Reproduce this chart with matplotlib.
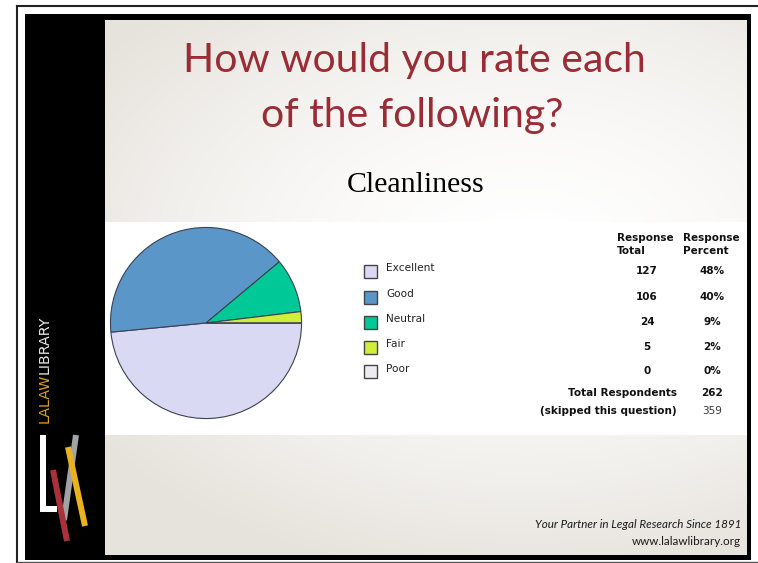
import numpy as np
import matplotlib
matplotlib.use("Agg")
import matplotlib.pyplot as plt
from matplotlib.patches import Rectangle, Polygon

# ---- data ----
categories = ["Excellent", "Good", "Neutral", "Fair", "Poor"]
counts = [127, 106, 24, 5, 0]
percents = ["48%", "40%", "9%", "2%", "0%"]
colors = ["#d9d9f3", "#5b96c8", "#00c997", "#d2ee3c", "#ececf0"]
total_respondents = 262
skipped = 359
title_lines = ["How would you rate each", "of the following?"]
subtitle = "Cleanliness"
footer_lines = ["Your Partner in Legal Research Since 1891", "www.lalawlibrary.org"]

W, H = 758, 563
fig = plt.figure(figsize=(W / 100, H / 100), dpi=100)
fig.patch.set_facecolor("white")

# background axes in pixel coordinates
bg = fig.add_axes([0, 0, 1, 1])
bg.set_xlim(0, W)
bg.set_ylim(H, 0)
bg.axis("off")

# outer thin frame
bg.plot([16.5, W], [5.5, 5.5], color="#222222", lw=1.5, zorder=1)
bg.plot([16.5, 16.5], [5.5, H], color="#222222", lw=1.5, zorder=1)
bg.plot([16.5, W], [562, 562], color="#555555", lw=1.0, zorder=1)

# black slide frame
bg.add_patch(Rectangle((25, 14), 726, 546, facecolor="black", edgecolor="none", zorder=2))

# gradient content area
x0, y0, x1, y1 = 105, 20, 747, 555
ny, nx = y1 - y0, x1 - x0
yy, xx = np.mgrid[0:ny, 0:nx]
d = np.sqrt(((xx - 420) / 520.0) ** 2 + ((yy - 230) / 330.0) ** 2)
t = np.clip(d, 0, 1) ** 1.6
white = np.array([1.0, 1.0, 1.0])
gray = np.array([0.905, 0.89, 0.865])
img = white[None, None, :] * (1 - t[..., None]) + gray[None, None, :] * t[..., None]
bg.imshow(img, extent=(x0, x1, y1, y0), zorder=3, aspect="auto", interpolation="bilinear")
bg.set_xlim(0, W)
bg.set_ylim(H, 0)

# white panel (survey screenshot)
bg.add_patch(Rectangle((105, 222), 642, 213, facecolor="white", edgecolor="none", zorder=4))

# title and subtitle
bg.text(414, 72, title_lines[0], ha="center", va="baseline", fontsize=29.5,
        family="Lato", color="#9b2c35", zorder=5)
bg.text(412, 127, title_lines[1], ha="center", va="baseline", fontsize=29.5,
        family="Lato", color="#9b2c35", zorder=5)
bg.text(416, 192, subtitle, ha="center", va="baseline", fontsize=21.5,
        family="Liberation Serif", color="black", zorder=5)

# footer
bg.text(741, 528, footer_lines[0], ha="right", va="baseline", fontsize=8.4,
        family="Lato", style="italic", color="#1a1a1a", zorder=5)
bg.text(741, 545, footer_lines[1], ha="right", va="baseline", fontsize=8.4,
        family="Lato", color="#1a1a1a", zorder=5)

# sidebar logo text
t1 = bg.text(45, 423, "LALAW", rotation=90, ha="center", va="bottom", fontsize=10.3,
             family="DejaVu Sans", color="#d9a21f", zorder=5)
fig.canvas.draw()
ext = t1.get_window_extent()
top_px = H - ext.y1
bg.text(45, top_px, "LIBRARY", rotation=90, ha="center", va="bottom", fontsize=10.3,
        family="DejaVu Sans", color="#e8e8e8", zorder=5)

# logo shapes
bg.add_patch(Polygon([(40, 435), (46, 435), (46, 506), (57, 506), (57, 512), (40, 512)],
                     closed=True, facecolor="white", edgecolor="none", zorder=5))
def bar(p0, p1, w, c, z):
    p0 = np.array(p0, float); p1 = np.array(p1, float)
    v = p1 - p0
    n = np.array([-v[1], v[0]]) / np.linalg.norm(v) * w / 2
    bg.add_patch(Polygon([p0 + n, p1 + n, p1 - n, p0 - n], closed=True,
                         facecolor=c, edgecolor="none", zorder=z))
bar((76, 435), (64, 520), 6, "#a0a2a5", 6)
bar((53, 470), (67, 541), 6, "#a8313c", 7)
bar((68, 447), (85, 526), 6, "#eab21f", 8)

# pie chart
cx, cy, r = 206, 323, 96.5
pax = fig.add_axes([(cx - r) / W, (H - cy - r) / H, 2 * r / W, 2 * r / H])
pax.pie(counts, colors=colors, startangle=0, counterclock=False,
        wedgeprops=dict(edgecolor="#3a4152", linewidth=0.8))
pax.set_xlim(-1.01, 1.01)
pax.set_ylim(-1.01, 1.01)
pax.set_aspect("equal")
pax.set_zorder(10)

# legend
row_y = [271, 297, 322, 347, 371.5]
for cat, col, y in zip(categories, colors, row_y):
    bg.add_patch(Rectangle((364, y - 6.5), 13, 13, facecolor=col, edgecolor="#444444",
                           linewidth=1.0, zorder=6))
    bg.text(386, y - 3, cat, ha="left", va="center", fontsize=7.6,
            family="DejaVu Sans", color="#222222", zorder=6)

# table
tf = dict(family="DejaVu Sans", fontsize=7.5, fontweight="bold", color="#111111", zorder=6)
bg.text(617, 238, "Response", ha="left", va="center", **tf)
bg.text(617, 250.5, "Total", ha="left", va="center", **tf)
bg.text(683, 238, "Response", ha="left", va="center", **tf)
bg.text(683, 250.5, "Percent", ha="left", va="center", **tf)
for c, p, y in zip(counts, percents, row_y):
    bg.text(647, y, str(c), ha="center", va="center", **tf)
    bg.text(712, y, p, ha="center", va="center", **tf)
bg.text(677, 393, "Total Respondents", ha="right", va="center", **tf)
bg.text(712, 393, str(total_respondents), ha="center", va="center", **tf)
bg.text(677, 411.5, "(skipped this question)", ha="right", va="center", **tf)
bg.text(712, 411.5, str(skipped), ha="center", va="center", family="DejaVu Sans",
        fontsize=7.5, color="#333333", zorder=6)

fig.savefig("out.png", dpi=100)
